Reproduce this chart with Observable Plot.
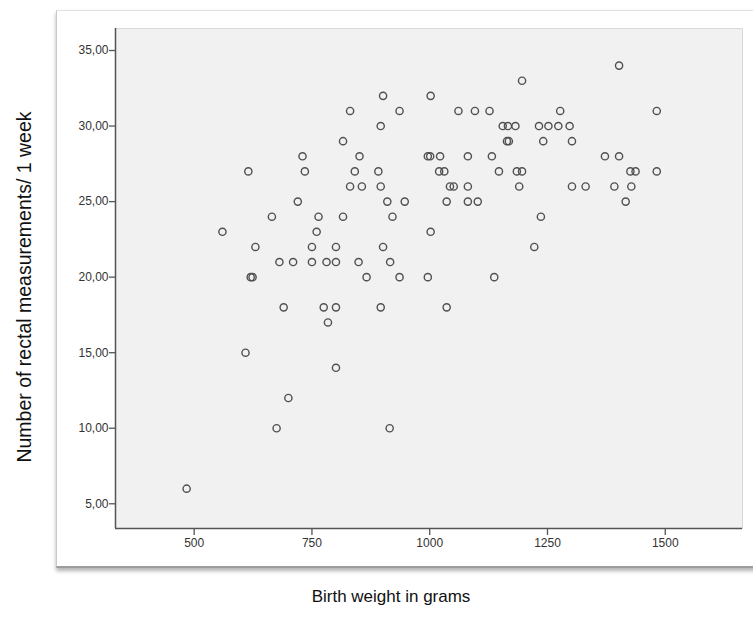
<!DOCTYPE html>
<html>
<head>
<meta charset="utf-8">
<script src="https://cdn.jsdelivr.net/npm/d3@7"></script>
<script src="https://cdn.jsdelivr.net/npm/@observablehq/plot@0.6"></script>
<style>
  html, body { margin: 0; padding: 0; background: #fff; width: 753px; height: 633px; overflow: hidden; }
  #panel { position: absolute; left: 56px; top: 10px; width: 720px; height: 555px; background: #fff;
           border-left: 1px solid #c9c9c9; border-top: 1px solid #e2e2e2; border-bottom: 2px solid #9c9c9c;
           box-shadow: 0 3px 4px rgba(0,0,0,0.3); }
  #chart { position: absolute; left: 0; top: 0; }
  #ylab { position: absolute; left: 24px; top: 287px; transform: translate(-50%, -50%) rotate(-90deg);
          white-space: nowrap; font-family: "Liberation Sans", Arial, sans-serif; font-size: 19.5px; color: #111; }
  #xlab { position: absolute; left: 391px; top: 597px; transform: translate(-50%, -50%);
          white-space: nowrap; font-family: "Liberation Sans", Arial, sans-serif; font-size: 17px; color: #111; }
</style>
</head>
<body>
<div id="panel"></div>
<div id="chart"></div>
<div id="ylab">Number of rectal measurements/ 1 week</div>
<div id="xlab">Birth weight in grams</div>
<script>
const birthWeight = [
  484, 560, 609, 615, 620, 624, 630, 665, 675, 681,
  690, 700, 710, 720, 730, 735, 750, 750, 760, 764,
  775, 781, 784, 801, 801, 801, 801, 816, 816, 831,
  831, 841, 851, 849, 856, 866, 891, 896, 896, 896,
  901, 901, 910, 916, 915, 921, 936, 936, 947, 996,
  996, 1001, 1002, 1002, 1022, 1020, 1031, 1036, 1036, 1043,
  1051, 1061, 1081, 1081, 1081, 1096, 1102, 1127, 1132, 1137,
  1147, 1155, 1166, 1182, 1164, 1168, 1185, 1196, 1190, 1196,
  1222, 1232, 1236, 1241, 1252, 1273, 1277, 1297, 1302, 1302,
  1331, 1372, 1392, 1402, 1402, 1416, 1428, 1426, 1437, 1482,
  1482
];
const rectalCount = [
  6, 23, 15, 27, 20, 20, 22, 24, 10, 21,
  18, 12, 21, 25, 28, 27, 22, 21, 23, 24,
  18, 21, 17, 22, 21, 18, 14, 29, 24, 31,
  26, 27, 28, 21, 26, 20, 27, 30, 26, 18,
  22, 32, 25, 21, 10, 24, 20, 31, 25, 20,
  28, 28, 32, 23, 28, 27, 27, 25, 18, 26,
  26, 31, 28, 26, 25, 31, 25, 31, 28, 20,
  27, 30, 30, 30, 29, 29, 27, 27, 26, 33,
  22, 30, 24, 29, 30, 30, 31, 30, 29, 26,
  26, 28, 26, 34, 28, 25, 26, 27, 27, 31,
  27
];
const xTicks = [500, 750, 1000, 1250, 1500];
const yTicks = [5, 10, 15, 20, 25, 30, 35];

const data = birthWeight.map((w, i) => ({ weight: w, count: rectalCount[i] }));

const xDomain = [333, 1664];
const yDomain = [3.364, 36.457];

const chart = Plot.plot({
  width: 753,
  height: 633,
  marginLeft: 115,
  marginRight: 11,
  marginTop: 28,
  marginBottom: 105,
  style: { background: "transparent", fontFamily: "'Liberation Sans', Arial, sans-serif", fontSize: "12px", color: "#333" },
  x: { domain: xDomain, label: null },
  y: { domain: yDomain, label: null },
  marks: [
    Plot.frame({ fill: "#f1f1f1", stroke: "#d8d8d8" }),
    Plot.dot(data, { x: "weight", y: "count", r: 3.6, stroke: "#505050", strokeWidth: 1.4, fill: "none" }),
    Plot.ruleX([xDomain[0]], { stroke: "#555", strokeWidth: 1.5 }),
    Plot.ruleY([yDomain[0]], { stroke: "#555", strokeWidth: 1.5 }),
    Plot.axisX({ ticks: xTicks, tickSize: 7, tickPadding: 3, stroke: "#555", strokeWidth: 1.3, tickFormat: d => String(d), label: null }),
    Plot.axisY({ ticks: yTicks, tickSize: 6, tickPadding: 1, stroke: "#555", strokeWidth: 1.3, tickFormat: d => d.toFixed(2).replace(".", ","), label: null })
  ]
});
document.getElementById("chart").appendChild(chart);
</script>
</body>
</html>
